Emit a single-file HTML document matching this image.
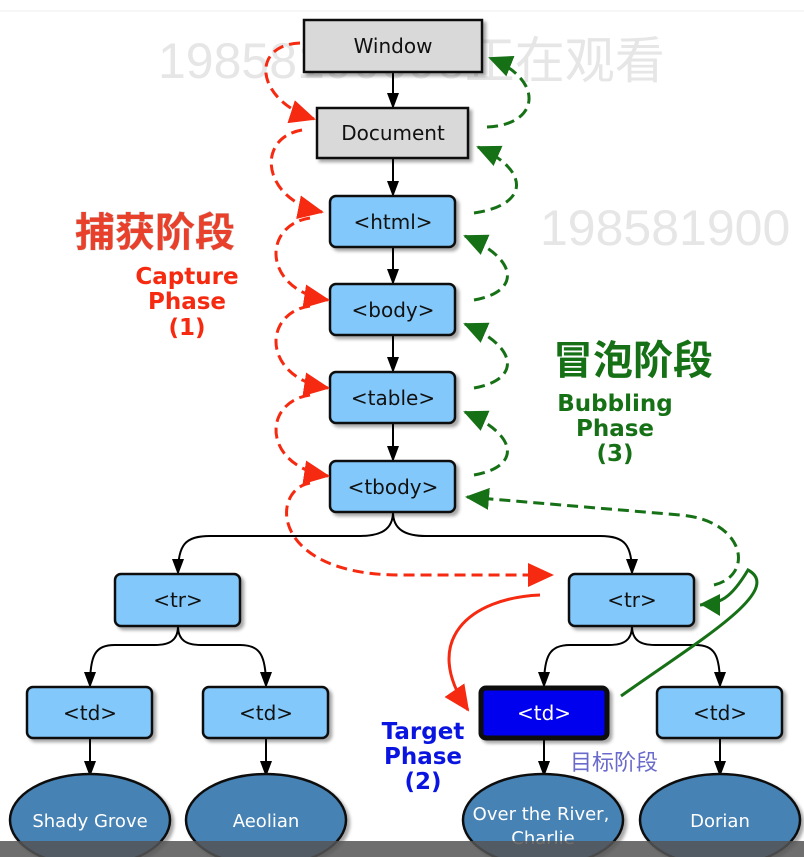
<!DOCTYPE html>
<html><head><meta charset="utf-8"><style>
html,body{margin:0;padding:0;background:#fff;}
svg{display:block;font-family:"DejaVu Sans","Liberation Sans",sans-serif;}
.b{font-family:"DejaVu Sans","Liberation Sans",sans-serif;font-weight:bold;}
</style></head><body>
<svg width="804" height="857" viewBox="0 0 804 857" xmlns="http://www.w3.org/2000/svg">
<defs>
<marker id="ab" markerWidth="16" markerHeight="16" refX="14" refY="8" orient="auto" markerUnits="userSpaceOnUse"><path d="M0,2 L16,8 L0,14 Z" fill="#000"/></marker>
<marker id="ar" markerWidth="26" markerHeight="26" refX="24" refY="13" orient="auto" markerUnits="userSpaceOnUse"><path d="M0,1 L26,13 L0,25 Z" fill="#f52a10"/></marker>
<marker id="ag" markerWidth="24" markerHeight="24" refX="22" refY="12" orient="auto" markerUnits="userSpaceOnUse"><path d="M0,1 L24,12 L0,23 Z" fill="#167015"/></marker>
<filter id="sh"><feDropShadow dx="3" dy="3" stdDeviation="1.5" flood-color="#000" flood-opacity="0.35"/></filter>
</defs>
<line x1="0" y1="11" x2="804" y2="11" stroke="#eee"/>
<!-- watermarks -->
<text x="158" y="78" font-size="50" fill="#e6e6e6" font-family="Liberation Sans, Noto Sans CJK SC, sans-serif">1985819009б正在观看</text>
<text x="540" y="245" font-size="50" fill="#e6e6e6" font-family="Liberation Sans, sans-serif">198581900</text>

<!-- black connectors -->
<g stroke="#000" stroke-width="2" fill="none" marker-end="url(#ab)">
<line x1="393" y1="72" x2="393" y2="107"/>
<line x1="393" y1="158" x2="393" y2="195"/>
<line x1="393" y1="247" x2="393" y2="283"/>
<line x1="393" y1="335" x2="393" y2="371"/>
<line x1="393" y1="423" x2="393" y2="460"/>
<path d="M393,512 C393,530 380,536 360,536 L210,536 C185,536 178,545 178,573"/>
<path d="M393,512 C393,530 406,536 426,536 L600,536 C625,536 632,545 632,573"/>
<path d="M178,626 C178,640 170,645 155,645 L115,645 C95,645 90,655 90,686"/>
<path d="M178,626 C178,640 186,645 201,645 L240,645 C260,645 266,655 266,686"/>
<path d="M632,626 C632,640 624,645 609,645 L570,645 C550,645 544,655 544,686"/>
<path d="M632,626 C632,640 640,645 655,645 L695,645 C715,645 720,655 720,686"/>
<line x1="90" y1="738" x2="90" y2="775"/>
<line x1="266" y1="738" x2="266" y2="775"/>
<line x1="544" y1="738" x2="544" y2="775"/>
<line x1="720" y1="738" x2="720" y2="775"/>
</g>

<!-- boxes -->
<g filter="url(#sh)" stroke="#111" stroke-width="2.5">
<rect x="304" y="20" width="178" height="52" fill="#d9d9d9"/>
<rect x="317" y="108" width="151" height="50" fill="#d9d9d9"/>
<rect x="330" y="196" width="125" height="51" rx="6" fill="#82c8fa"/>
<rect x="330" y="284" width="125" height="51" rx="6" fill="#82c8fa"/>
<rect x="330" y="372" width="125" height="51" rx="6" fill="#82c8fa"/>
<rect x="330" y="461" width="125" height="51" rx="6" fill="#82c8fa"/>
<rect x="115" y="574" width="125" height="52" rx="6" fill="#82c8fa"/>
<rect x="569" y="574" width="125" height="52" rx="6" fill="#82c8fa"/>
<rect x="27" y="687" width="125" height="51" rx="6" fill="#82c8fa"/>
<rect x="203" y="687" width="125" height="51" rx="6" fill="#82c8fa"/>
<rect x="657" y="687" width="125" height="51" rx="6" fill="#82c8fa"/>
<rect x="481" y="688" width="126" height="50" rx="5" fill="#0000ee" stroke-width="5"/>
<ellipse cx="90" cy="820" rx="80" ry="46" fill="#4682b4"/>
<ellipse cx="266" cy="820" rx="80" ry="46" fill="#4682b4"/>
<ellipse cx="543" cy="820" rx="80" ry="46" fill="#4682b4"/>
<ellipse cx="720" cy="820" rx="80" ry="46" fill="#4682b4"/>
</g>
<g font-size="20" text-anchor="middle" fill="#111">
<text x="393" y="53">Window</text>
<text x="393" y="140">Document</text>
<text x="393" y="229">&lt;html&gt;</text>
<text x="393" y="317">&lt;body&gt;</text>
<text x="393" y="405">&lt;table&gt;</text>
<text x="393" y="494">&lt;tbody&gt;</text>
<text x="178" y="607">&lt;tr&gt;</text>
<text x="632" y="607">&lt;tr&gt;</text>
<text x="90" y="720">&lt;td&gt;</text>
<text x="266" y="720">&lt;td&gt;</text>
<text x="720" y="720">&lt;td&gt;</text>
<text x="544" y="720" fill="#fff">&lt;td&gt;</text>
</g>
<g font-size="18" text-anchor="middle" fill="#fff">
<text x="90" y="827">Shady Grove</text>
<text x="266" y="827">Aeolian</text>
<text x="541" y="820">Over the River,</text>
<text x="543" y="844">Charlie</text>
<text x="720" y="827">Dorian</text>
</g>

<!-- red capture arrows -->
<g stroke="#f52a10" stroke-width="3" fill="none" stroke-dasharray="11,6" marker-end="url(#ar)">
<path d="M300,43 C250,45 255,100 314,119"/>
<path d="M302,130 C255,138 262,200 322,212"/>
<path d="M310,218 C262,225 262,290 328,300"/>
<path d="M310,306 C262,313 262,378 328,388"/>
<path d="M310,395 C262,402 262,466 328,476"/>
<path d="M310,483 C270,490 270,575 400,575 L552,575"/>
</g>
<path d="M540,595 C470,598 420,640 468,710" stroke="#f52a10" stroke-width="3" fill="none" marker-end="url(#ar)"/>

<!-- green bubble arrows -->
<g stroke="#167015" stroke-width="3" fill="none" stroke-dasharray="11,6" marker-end="url(#ag)">
<path d="M487,127 C540,125 545,80 490,58"/>
<path d="M474,213 C530,205 530,170 478,147"/>
<path d="M474,300 C520,292 520,260 465,236"/>
<path d="M474,388 C520,380 520,348 465,324"/>
<path d="M474,475 C520,467 520,436 465,412"/>
<path d="M714,585 C755,575 745,520 680,515 L467,497"/>
</g>
<path d="M621,696 C700,640 785,590 748,570 C730,600 720,603 700,605" stroke="#167015" stroke-width="3" fill="none"/>
<path d="M750,575 C745,560 725,603 700,604" stroke="none" fill="none"/>
<path d="M700,604 L720,594 L720,616 Z" fill="#167015"/>

<!-- labels -->
<text x="75" y="246" font-size="40" fill="#e8402a" font-weight="bold" style="paint-order:stroke" stroke="#ddd" stroke-width="1" font-family="Liberation Sans, Noto Sans CJK SC, sans-serif">捕获阶段</text>
<g class="b" font-size="23" text-anchor="middle" fill="#f52a10">
<text x="187" y="284">Capture</text>
<text x="187" y="309">Phase</text>
<text x="187" y="335">(1)</text>
</g>
<text x="553" y="374" font-size="40" fill="#167015" font-weight="bold" font-family="Liberation Sans, Noto Sans CJK SC, sans-serif">冒泡阶段</text>
<g class="b" font-size="23" text-anchor="middle" fill="#167015">
<text x="615" y="411">Bubbling</text>
<text x="615" y="436">Phase</text>
<text x="615" y="461">(3)</text>
</g>
<g class="b" font-size="23" text-anchor="middle" fill="#0a14e0">
<text x="423" y="739">Target</text>
<text x="423" y="764">Phase</text>
<text x="423" y="789">(2)</text>
</g>
<text x="570" y="770" font-size="22" fill="#6a6acc" font-family="Liberation Sans, Noto Sans CJK SC, sans-serif">目标阶段</text>

<rect x="0" y="841" width="804" height="16" fill="#555" opacity="0.85"/>
</svg>
</body></html>
